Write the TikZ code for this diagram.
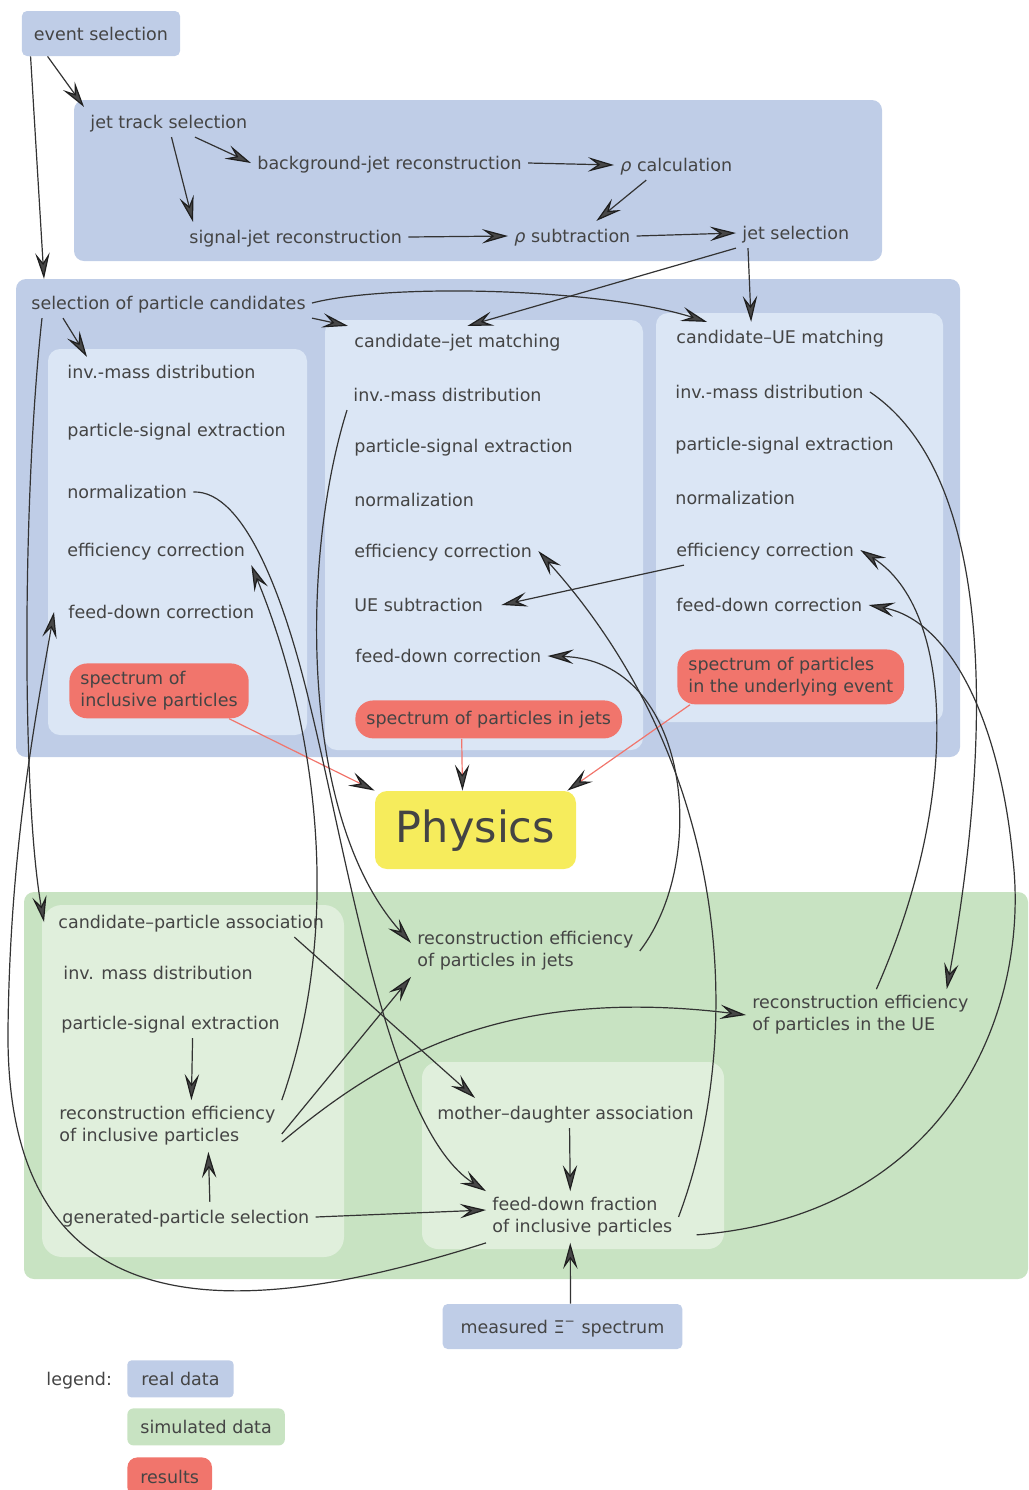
\documentclass[tikz,border=0pt]{standalone}
\usepackage{fontspec}
\setmainfont{DejaVu Sans}
\usetikzlibrary{arrows.meta}
\definecolor{realblue}{RGB}{191,205,231}
\definecolor{paleblue}{RGB}{219,230,245}
\definecolor{simgreen}{RGB}{200,227,194}
\definecolor{palegreen}{RGB}{224,239,220}
\definecolor{resred}{RGB}{241,117,108}
\definecolor{physyellow}{RGB}{246,236,92}
\definecolor{txtgray}{RGB}{68,68,68}
\definecolor{arrgray}{RGB}{51,51,51}
\begin{document}
\begin{tikzpicture}[x=0.5pt, y=-0.5pt,
  >={Stealth[length=13pt,width=7.2pt,inset=5pt,color=black!88,fill=black!72]},
  font=\fontsize{8.75pt}{11pt}\selectfont,
  every node/.style={text=txtgray},
  lbl/.style={anchor=west, inner sep=3pt, text height=7.6pt, text depth=1.1pt},
  two/.style={anchor=west, inner sep=3pt, align=left},
  tag/.style={fill=realblue, rounded corners=2.5pt, inner xsep=6pt, minimum height=22.5pt, text height=7.6pt, text depth=1.1pt},
  res/.style={fill=resred, rounded corners=9pt, align=left, inner xsep=5.5pt, inner ysep=4pt},
  flow/.style={->, arrgray, line width=0.6pt},
  hit/.style={->, resred, line width=0.6pt}]
\useasboundingbox (0,0) rectangle (1029,1490);

% backgrounds
\fill[realblue, rounded corners=5pt] (74,100) rectangle (882,261);
\fill[realblue, rounded corners=5pt] (16,279) rectangle (960,757);
\fill[paleblue, rounded corners=6pt] (48,349) rectangle (307,735);
\fill[paleblue, rounded corners=6pt] (325,320) rectangle (643,750);
\fill[paleblue, rounded corners=6pt] (656,313) rectangle (943,722);
\fill[simgreen, rounded corners=5pt] (24,892) rectangle (1028,1279);
\fill[palegreen, rounded corners=10pt] (42,905) rectangle (344,1257);
\fill[palegreen, rounded corners=8pt] (422,1062) rectangle (724,1249);

% jets
\node[tag, minimum width=79pt] (evsel) at (101,33.5) {event selection};
\node[lbl] (jts) at (84,122) {jet track selection};
\node[lbl] (bgj) at (251,163) {background-jet reconstruction};
\node[lbl] (rhoc) at (614,165) {\textit{ρ} calculation};
\node[lbl] (sjr) at (183,237) {signal-jet reconstruction};
\node[lbl] (rhos) at (508,236) {\textit{ρ} subtraction};
\node[lbl] (jsel) at (736,233) {jet selection};

% real data analysis
\node[lbl] (selcand) at (25,303) {selection of particle candidates};
\node[lbl] (im1) at (61,372) {inv.-mass distribution};
\node[lbl] (pse1) at (61,430) {particle-signal extraction};
\node[lbl] (norm1) at (61,492) {normalization};
\node[lbl] (eff1) at (61,550) {efficiency correction};
\node[lbl] (fd1) at (62,612) {feed-down correction};
\node[res, anchor=north west] (res1) at (69,663) {spectrum of\\inclusive particles};

\node[lbl] (cjm) at (348,341) {candidate--jet matching};
\node[lbl] (im2) at (347,395) {inv.-mass distribution};
\node[lbl] (pse2) at (348,446) {particle-signal extraction};
\node[lbl] (norm2) at (348,500) {normalization};
\node[lbl] (eff2) at (348,551) {efficiency correction};
\node[lbl] (ues) at (348,605) {UE subtraction};
\node[lbl] (fd2) at (349,656) {feed-down correction};
\node[res, anchor=north west, minimum height=19pt] (res2) at (355,700) {spectrum of particles in jets};

\node[lbl] (cue) at (670,337) {candidate--UE matching};
\node[lbl] (im3) at (669,392) {inv.-mass distribution};
\node[lbl] (pse3) at (669,444) {particle-signal extraction};
\node[lbl] (norm3) at (669,498) {normalization};
\node[lbl] (eff3) at (670,550) {efficiency correction};
\node[lbl] (fd3) at (670,605) {feed-down correction};
\node[res, anchor=north west] (res3) at (677,649) {spectrum of particles\\in the underlying event};

\node[fill=physyellow, rounded corners=6pt, minimum width=100.5pt, minimum height=39pt,
  text height=16pt, text depth=3.6pt,
  font=\fontsize{21.5pt}{26pt}\selectfont] (phys) at (475.5,830) {Physics};

% simulation
\node[lbl] (cpa) at (52,922) {candidate--particle association};
\node[lbl] (imd) at (57,973) {inv. mass distribution};
\node[lbl] (pse4) at (55,1023) {particle-signal extraction};
\node[two] (rei) at (53,1126) {reconstruction efficiency\\of inclusive particles};
\node[lbl] (gps) at (56,1217) {generated-particle selection};
\node[two] (rej) at (411,951) {reconstruction efficiency\\of particles in jets};
\node[two] (reu) at (746,1015) {reconstruction efficiency\\of particles in the UE};
\node[lbl] (mda) at (431,1113) {mother--daughter association};
\node[two] (fdf) at (486,1217) {feed-down fraction\\of inclusive particles};
\node[tag, inner xsep=9pt] (meas) at (562.5,1326.5) {measured Ξ\textsuperscript{−} spectrum};

% legend
\node[lbl] (leg) at (40,1379) {legend:};
\node[tag, anchor=north west, inner xsep=7pt, minimum height=18.5pt, rounded corners=2pt] (lreal) at (127,1360) {real data};
\node[tag, anchor=north west, inner xsep=6.5pt, minimum height=18.5pt, rounded corners=3pt, fill=simgreen] (lsim) at (127,1408) {simulated data};
\node[tag, anchor=north west, inner xsep=6.5pt, minimum height=20pt, rounded corners=5pt, fill=resred] (lres) at (127,1457) {results};

% connectors
\draw[flow] ([xshift=13pt]evsel.south west) -- (jts.north west);
\draw[flow] ([xshift=4.5pt]evsel.south west) -- ([xshift=9.5pt,yshift=4.5pt]selcand.north west);
\draw[flow] (jts.-30) -- (bgj.west);
\draw[flow] (jts.-80) -- ([xshift=5pt]sjr.north west);
\draw[flow] (bgj.east) -- (rhoc.west);
\draw[flow] ([xshift=-15pt]rhoc.south) -- ([xshift=12pt]rhos.north);
\draw[flow] (sjr.east) -- (rhos.west);
\draw[flow] (rhos.east) -- (jsel.west);
\draw[flow] (jsel.south west) -- ([xshift=5pt]cjm.north);
\draw[flow] ([xshift=6pt]jsel.south west) -- ([xshift=-14.5pt]cue.north);
\draw[flow] (selcand.east) .. controls (390,283) and (600,288) .. ([xshift=18.5pt]cue.north west);
\draw[flow] (selcand.south east) -- (cjm.north west);
\draw[flow] ([xshift=19pt]selcand.south west) -- ([xshift=13pt]im1.north west);
\draw[flow] ([xshift=8.5pt]selcand.south west) .. controls (22,500) and (22,800) .. ([xshift=-4pt]cpa.west);
\draw[flow] ([xshift=7pt]eff3.south west) -- ([xshift=6pt]ues.east);

\draw[hit] ([xshift=-10pt]res1.south east) -- (phys.north west);
\draw[hit] ([xshift=-13.5pt]res2.south) -- ([xshift=-6.5pt]phys.north);
\draw[hit] ([xshift=6.5pt]res3.south west) -- ([xshift=-4.5pt]phys.north east);

\draw[flow] (norm1.east) .. controls (245,490) and (285,600) .. (310,705) .. controls (350,870) and (390,1130) .. (fdf.north west);
\draw[flow] (rei.north east) .. controls (345,920) and (315,720) .. (eff1.south east);
\draw[flow] (im2.south west) .. controls (300,560) and (300,820) .. ([yshift=4pt]rej.west);
\draw[flow] (rej.east) .. controls (710,860) and (690,660) .. (fd2.east);
\draw[flow] (fdf.east) .. controls (745,1040) and (735,770) .. (eff2.east);
\draw[flow] ([xshift=8pt]reu.north) .. controls (960,800) and (955,610) .. (eff3.east);
\draw[flow] (im3.east) .. controls (1000,480) and (990,750) .. ([xshift=-14pt]reu.north east);
\draw[flow] ([xshift=9pt,yshift=4pt]fdf.south east) .. controls (950,1215) and (1030,1010) .. (1013,860)
  .. controls (1000,720) and (950,620) .. (fd3.east);
\draw[flow] (fdf.south west) .. controls (250,1318) and (5,1342) .. (8,1030)
  .. controls (10,850) and (35,720) .. ([xshift=-4pt]fd1.west);

\draw[flow] ([xshift=-18pt]cpa.south east) -- ([xshift=22pt]mda.north west);
\draw[flow] ([yshift=-4pt]rei.east) -- (rej.south west);
\draw[flow] ([yshift=-8pt]rei.east) .. controls (380,1060) and (500,985) .. (reu.west);
\draw[flow] (gps.east) -- ([yshift=3.5pt]fdf.west);
\draw[flow] ([xshift=11pt]pse4.south) -- ([xshift=12pt]rei.north);
\draw[flow] ([xshift=12pt]gps.north) -- ([xshift=20.5pt]rei.south);
\draw[flow] ([xshift=2pt]mda.south) -- ([xshift=-6pt]fdf.north);
\draw[flow] ([xshift=4pt]meas.north) -- ([xshift=-6pt]fdf.south);
\end{tikzpicture}
\end{document}
